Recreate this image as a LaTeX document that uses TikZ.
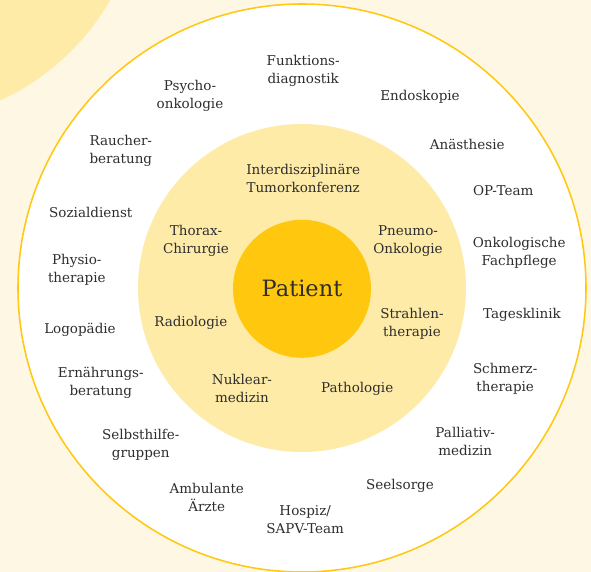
\documentclass[tikz,border=0pt]{standalone}
\usepackage{fontspec}
\setmainfont{DejaVu Serif}
\definecolor{cream}{HTML}{FEF7E4}
\definecolor{paleyellow}{HTML}{FEEBA8}
\definecolor{gold}{HTML}{FFC80F}
\definecolor{ringline}{HTML}{FFC814}
\definecolor{txtgray}{HTML}{2E2E2E}

\begin{document}
\begin{tikzpicture}[lbl/.style={align=center, text=txtgray, inner sep=0pt, font=\fontsize{9.6}{12.8}\selectfont}]
    \fill[cream] (-7.55,-7.1) rectangle (7.225,7.2);
    \useasboundingbox (-7.55,-7.1) rectangle (7.225,7.2);
    \begin{scope}
        \clip (-7.55,-7.1) rectangle (7.225,7.2);
        \fill[paleyellow] (-10.05,10.2) circle (6.05);
    \end{scope}
    \draw[ringline, line width=1.1pt, fill=white] (0,0) circle (7.1);
    \fill[paleyellow] (0,0) circle (4.1);
    \node (pat) [circle, fill=gold, minimum size=3.45cm, text=txtgray, font=\fontsize{16}{20}\selectfont] at (0,-0.02) {Patient};
    % inner ring
    \node (itk) [lbl] at (0.03,2.73) {Interdisziplinäre\\Tumorkonferenz};
    \node (thc) [lbl] at (-2.65,1.18) {Thorax-\\Chirurgie};
    \node (pno) [lbl] at (2.65,1.18) {Pneumo-\\Onkologie};
    \node (rad) [lbl] at (-2.78,-0.88) {Radiologie};
    \node (str) [lbl] at (2.75,-0.9) {Strahlen-\\therapie};
    \node (nuk) [lbl] at (-1.5,-2.5) {Nuklear-\\medizin};
    \node (pth) [lbl] at (1.38,-2.53) {Pathologie};
    % outer ring
    \node (fkt) [lbl] at (0.03,5.43) {Funktions-\\diagnostik};
    \node (end) [lbl] at (2.95,4.78) {Endoskopie};
    \node (psy) [lbl] at (-2.8,4.8) {Psycho-\\onkologie};
    \node (rau) [lbl] at (-4.53,3.43) {Raucher-\\beratung};
    \node (ana) [lbl] at (4.13,3.58) {Anästhesie};
    \node (opt) [lbl] at (5.03,2.43) {OP-Team};
    \node (soz) [lbl] at (-5.28,1.9) {Sozialdienst};
    \node (onk) [lbl] at (5.43,0.88) {Onkologische\\Fachpflege};
    \node (phy) [lbl] at (-5.63,0.45) {Physio-\\therapie};
    \node (tag) [lbl] at (5.5,-0.68) {Tagesklinik};
    \node (log) [lbl] at (-5.55,-1.05) {Logopädie};
    \node (ern) [lbl] at (-5.03,-2.38) {Ernährungs-\\beratung};
    \node (sch) [lbl] at (5.08,-2.28) {Schmerz-\\therapie};
    \node (sel) [lbl] at (-4.03,-3.93) {Selbsthilfe-\\gruppen};
    \node (pal) [lbl] at (4.08,-3.83) {Palliativ-\\medizin};
    \node (see) [lbl] at (2.45,-4.95) {Seelsorge};
    \node (amb) [lbl] at (-2.38,-5.23) {Ambulante\\Ärzte};
    \node (hos) [lbl] at (0.08,-5.78) {Hospiz/\\SAPV-Team};
\end{tikzpicture}
\end{document}
